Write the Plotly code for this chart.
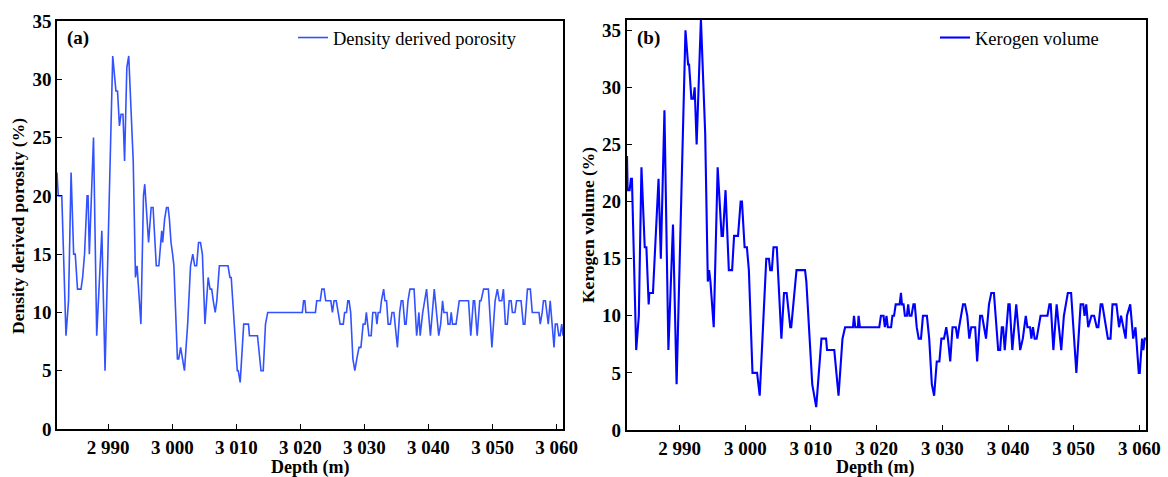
import plotly.graph_objects as go

# ---------------- data ----------------
depth_a = [2982.0, 2982.2, 2982.75, 2983.4, 2983.8, 2984.2, 2984.6, 2984.85, 2985.2, 2985.75,
           2986.0, 2986.3, 2986.7, 2986.85, 2987.05, 2987.7, 2988.2, 2989.0, 2989.5, 2990.7,
           2991.2, 2991.45, 2991.75, 2992.0, 2992.3, 2992.55, 2992.9, 2993.2, 2993.9, 2994.25,
           2994.5, 2995.1, 2995.5, 2995.7, 2996.3, 2996.7, 2997.0, 2997.5, 2997.9, 2998.2,
           2998.35, 2998.5, 2998.8, 2999.1, 2999.35, 2999.55, 2999.8, 3000.05, 3000.25, 3000.8,
           3001.0, 3001.3, 3001.55, 3001.9, 3002.4, 3002.85, 3003.2, 3003.5, 3003.8, 3004.1,
           3004.4, 3004.7, 3005.1, 3005.6, 3005.9, 3006.15, 3006.4, 3006.7, 3006.95, 3007.35,
           3008.7, 3009.0, 3009.2, 3009.95, 3010.15, 3010.3, 3010.6, 3011.15, 3011.9, 3012.05,
           3013.3, 3013.85, 3014.2, 3014.55, 3014.9, 3020.3, 3020.5, 3020.7, 3020.85, 3022.35,
           3022.55, 3023.1, 3023.35, 3023.7, 3023.95, 3024.75, 3025.0, 3025.25, 3025.6, 3025.9,
           3026.2, 3026.7, 3026.9, 3027.2, 3027.4, 3027.6, 3027.85, 3028.2, 3028.5, 3028.8,
           3029.15, 3029.45, 3029.8, 3030.1, 3030.3, 3030.5, 3030.7, 3031.05, 3031.3, 3031.75,
           3031.95, 3032.15, 3032.45, 3032.65, 3033.0, 3033.2, 3033.45, 3033.7, 3034.05, 3034.3,
           3034.6, 3035.15, 3035.5, 3035.75, 3036.0, 3036.3, 3036.5, 3036.8, 3037.1, 3037.75,
           3038.15, 3038.35, 3038.5, 3038.7, 3039.1, 3039.7, 3040.3, 3040.9, 3041.6, 3041.9,
           3042.2, 3042.4, 3042.9, 3043.05, 3043.35, 3043.55, 3043.75, 3044.3, 3044.6, 3044.8,
           3046.25, 3046.6, 3047.0, 3047.2, 3047.6, 3048.0, 3048.2, 3048.6, 3049.35, 3049.9,
           3050.4, 3050.75, 3051.05, 3051.45, 3051.7, 3052.0, 3052.3, 3052.6, 3052.9, 3053.1,
           3053.5, 3053.75, 3054.45, 3054.8, 3055.05, 3055.45, 3055.9, 3056.2, 3057.25, 3057.45,
           3057.75, 3057.95, 3058.25, 3058.7, 3059.0, 3059.3, 3059.6, 3059.8, 3060.1, 3060.35,
           3060.55, 3060.8, 3061.0]
porosity_a = [22, 20, 20, 8, 11, 22, 15, 15, 12, 12,
              13, 15, 20, 20, 15, 25, 8, 17, 5, 32,
              29, 29, 26, 27, 27, 23, 31, 32, 23, 13,
              14, 9, 20, 21, 16, 19, 19, 14, 14, 16,
              17, 16, 18, 19, 19, 18, 16, 15, 14, 6,
              6, 7, 6, 5, 9, 14, 15, 14, 14, 16,
              16, 15, 9, 13, 12, 12, 11, 10, 11, 14,
              14, 13, 13, 6, 5, 5, 4, 9, 9, 8,
              8, 5, 5, 9, 10, 10, 11, 11, 10, 10,
              11, 11, 12, 12, 11, 11, 10, 11, 11, 10,
              9, 9, 10, 10, 11, 11, 10, 6, 5, 6,
              7, 7, 9, 9, 10, 9, 8, 8, 10, 10,
              9, 10, 10, 11, 12, 11, 11, 9, 9, 10,
              10, 7, 10, 11, 11, 9, 9, 11, 12, 12,
              8, 9, 10, 8, 10, 12, 8, 12, 8, 9,
              11, 10, 10, 9, 9, 10, 9, 9, 10, 11,
              11, 8, 11, 11, 8, 11, 11, 12, 12, 7,
              11, 12, 11, 11, 12, 9, 9, 11, 11, 10,
              10, 11, 11, 9, 9, 12, 12, 10, 10, 9,
              10, 11, 11, 9, 11, 9, 7, 9, 9, 8,
              8, 9, 8]

depth_b = [2982.0, 2982.1, 2982.4, 2982.6, 2982.75, 2983.4, 2983.8, 2984.2, 2984.7, 2984.95,
           2985.3, 2985.4, 2985.95, 2986.8, 2987.15, 2987.7, 2988.3, 2989.0, 2989.55, 2990.9,
           2991.3, 2991.45, 2991.8, 2992.1, 2992.3, 2992.6, 2993.25, 2993.9, 2994.3, 2994.5,
           2994.7, 2995.2, 2995.8, 2996.4, 2996.6, 2997.0, 2997.5, 2998.0, 2998.3, 2998.9,
           2999.3, 2999.5, 2999.9, 3000.25, 3000.55, 3001.1, 3001.8, 3002.2, 3003.2, 3003.6,
           3003.8, 3004.05, 3004.3, 3004.8, 3005.5, 3005.9, 3006.3, 3006.45, 3006.85, 3007.0,
           3007.8, 3009.1, 3009.3, 3010.2, 3010.45, 3010.8, 3011.6, 3012.3, 3012.45, 3013.55,
           3014.2, 3014.8, 3015.2, 3016.4, 3016.55, 3016.75, 3017.15, 3017.25, 3017.45, 3020.4,
           3020.65, 3021.05, 3021.25, 3021.5, 3021.7, 3022.2, 3022.4, 3022.65, 3022.9, 3023.5,
           3023.7, 3023.85, 3024.1, 3024.3, 3024.6, 3024.8, 3025.0, 3025.3, 3025.6, 3025.8,
           3026.1, 3026.4, 3026.75, 3027.05, 3027.65, 3028.0, 3028.4, 3028.75, 3029.15, 3029.55,
           3029.85, 3030.25, 3030.6, 3030.85, 3031.2, 3031.55, 3032.05, 3032.3, 3032.55, 3032.8,
           3033.15, 3033.45, 3033.8, 3034.1, 3034.4, 3035.0, 3035.3, 3035.75, 3036.05, 3036.35,
           3036.65, 3037.1, 3037.45, 3037.85, 3038.5, 3038.8, 3039.05, 3039.25, 3039.5, 3040.05,
           3040.25, 3040.65, 3041.25, 3041.85, 3042.25, 3042.7, 3042.95, 3043.35, 3043.55, 3043.8,
           3044.05, 3044.35, 3044.7, 3044.95, 3046.0, 3046.3, 3046.5, 3046.9, 3047.4, 3048.1,
           3048.5, 3049.1, 3049.6, 3050.4, 3051.05, 3051.45, 3051.65, 3051.9, 3052.2, 3052.7,
           3053.1, 3053.5, 3053.75, 3054.1, 3054.35, 3054.6, 3054.9, 3055.2, 3055.6, 3055.9,
           3056.5, 3056.9, 3057.2, 3057.5, 3057.9, 3058.1, 3058.6, 3059.05, 3059.4, 3059.9,
           3060.05, 3060.4, 3060.6, 3060.8, 3061.0]
kerogen_b = [24, 21, 21, 22, 22, 7, 10, 23, 16, 16,
             11, 12, 12, 22, 15, 28, 7, 18, 4, 35,
             32, 32, 29, 29, 30, 25, 36, 26, 13, 14,
             13, 9, 23, 17, 17, 21, 14, 14, 17, 17,
             20, 20, 16, 16, 14, 5, 5, 3, 15, 15,
             14, 14, 16, 16, 8, 12, 12, 11, 9, 9,
             14, 14, 13, 4, 3, 2, 8, 8, 7, 7,
             3, 8, 9, 9, 10, 9, 9, 10, 9, 9,
             10, 10, 9, 10, 9, 9, 10, 10, 11, 11,
             12, 11, 11, 10, 10, 11, 10, 10, 11, 11,
             9, 8, 8, 10, 10, 8, 4, 3, 6, 6,
             8, 8, 9, 8, 6, 9, 9, 8, 9, 10,
             11, 11, 10, 8, 9, 9, 6, 10, 10, 9,
             8, 11, 12, 12, 7, 7, 9, 9, 7, 11,
             11, 7, 11, 7, 8, 10, 9, 9, 8, 9,
             8, 8, 9, 10, 10, 11, 11, 7, 11, 7,
             10, 12, 12, 5, 11, 11, 10, 11, 9, 10,
             10, 9, 9, 11, 11, 10, 9, 8, 8, 11,
             11, 9, 10, 9, 8, 10, 11, 8, 9, 5,
             5, 8, 7, 8, 8]

x_tick_vals = [2990, 3000, 3010, 3020, 3030, 3040, 3050, 3060]
x_tick_text = ["2 990", "3 000", "3 010", "3 020", "3 030", "3 040", "3 050", "3 060"]
y_tick_vals = [0, 5, 10, 15, 20, 25, 30, 35]

series_names = ["Density derived porosity", "Kerogen volume"]
y_titles = ["Density derived porosity (%)", "Kerogen volume (%)"]
x_title = "Depth (m)"
panel_labels = ["(a)", "(b)"]

# ---------------- figure ----------------
W, H = 1168, 477
FONT = "Liberation Serif, Times New Roman, serif"

def px_x(p):
    return p / W

def px_y(p):
    return 1 - p / H

fig = go.Figure()
fig.add_trace(go.Scatter(x=depth_a, y=porosity_a, mode="lines", name=series_names[0],
                         line=dict(color="#3352ff", width=1.6), xaxis="x", yaxis="y",
                         legend="legend"))
fig.add_trace(go.Scatter(x=depth_b, y=kerogen_b, mode="lines", name=series_names[1],
                         line=dict(color="#0000ff", width=2.1), xaxis="x2", yaxis="y2",
                         legend="legend2"))

tickfont = dict(family=FONT, size=19, color="black", weight="bold")

def xaxis(domain, anchor, lw):
    return dict(domain=domain, anchor=anchor, range=[2982, 3061], tickmode="array",
                tickvals=x_tick_vals, ticktext=x_tick_text, ticks="inside", ticklen=5,
                tickwidth=1.2, tickcolor="black", showline=True, linecolor="black",
                linewidth=lw, mirror=True, showgrid=False, zeroline=False, tickfont=tickfont,
                ticklabelstandoff=0, automargin=False)

def yaxis(domain, anchor, lw, top):
    return dict(domain=domain, anchor=anchor, range=[0, top], tickmode="array",
                tickvals=y_tick_vals, ticks="inside", ticklen=5, tickwidth=1.2,
                tickcolor="black", showline=True, linecolor="black", linewidth=lw,
                mirror=True, showgrid=False, zeroline=False, tickfont=tickfont,
                automargin=False)

legend_font = dict(family=FONT, size=18.5, color="black")

fig.update_layout(
    width=W, height=H, autosize=False,
    margin=dict(l=0, r=0, t=0, b=0, pad=0, autoexpand=False),
    paper_bgcolor="white", plot_bgcolor="white",
    font=dict(family=FONT, size=17, color="black"),
    xaxis=xaxis([px_x(57), px_x(563)], "y", 1.5),
    yaxis=yaxis([px_y(429), px_y(21)], "x", 1.5, 35),
    xaxis2=xaxis([px_x(627), px_x(1146)], "y2", 2.2),
    yaxis2=yaxis([px_y(430), px_y(20)], "x2", 2.2, 35.9),
    legend=dict(x=px_x(293), y=px_y(19), xanchor="left", yanchor="top",
                bgcolor="rgba(0,0,0,0)", font=legend_font),
    legend2=dict(x=px_x(935), y=px_y(19), xanchor="left", yanchor="top",
                 bgcolor="rgba(0,0,0,0)", font=legend_font),
    showlegend=True,
)

annots = [
    dict(text=panel_labels[0], x=px_x(66), y=px_y(38), xanchor="left", yanchor="middle", size=19),
    dict(text=panel_labels[1], x=px_x(636), y=px_y(38), xanchor="left", yanchor="middle", size=19),
    dict(text=y_titles[0], x=px_x(18), y=px_y(226), textangle=-90, xanchor="center", yanchor="middle", size=17.5),
    dict(text=y_titles[1], x=px_x(588), y=px_y(225), textangle=-90, xanchor="center", yanchor="middle", size=17.5),
    dict(text=x_title, x=px_x(310), y=px_y(467), xanchor="center", yanchor="middle", size=18),
    dict(text=x_title, x=px_x(875), y=px_y(467), xanchor="center", yanchor="middle", size=18),
]
for a in annots:
    sz = a.pop("size")
    fig.add_annotation(xref="paper", yref="paper", showarrow=False, borderpad=0,
                       font=dict(family=FONT, size=sz, color="black", weight="bold"), **a)

fig.write_html("out.html")
